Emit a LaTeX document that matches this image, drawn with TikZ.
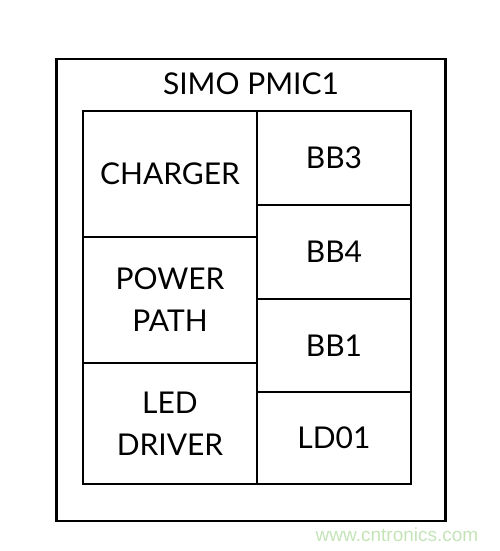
\documentclass[tikz,border=0pt]{standalone}
\usepackage{fontspec}
\setmainfont{Lato}
\newfontfamily\wmfont{Liberation Sans}
\usepackage{tikz}
\definecolor{wmgreen}{RGB}{196,228,184}

\begin{document}
\begin{tikzpicture}[x=1pt,y=-1pt]
            \tikzstyle{block}=[draw, line width=2.8pt, inner sep=0pt, align=center, font=\fontsize{30}{42}\selectfont]
            \useasboundingbox (0,0) rectangle (500,551);
            \node[draw, line width=2.8pt, minimum width=389, minimum height=462] (pmic) at (251,290) {};
            \node[font=\fontsize{30}{36}\selectfont] (title) at (251,84) {SIMO PMIC1};
            \node[block, minimum width=174, minimum height=126] (chg) at (170,174) {CHARGER};
            \node[block, minimum width=174, minimum height=126] (pwr) at (170,300) {POWER\\PATH};
            \node[block, minimum width=174, minimum height=121] (led) at (170,423.5) {LED\\DRIVER};
            \node[block, minimum width=154, minimum height=94] (bb3) at (334,158) {BB3};
            \node[block, minimum width=154, minimum height=94] (bb4) at (334,252) {BB4};
            \node[block, minimum width=154, minimum height=93] (bb1) at (334,345.5) {BB1};
            \node[block, minimum width=154, minimum height=92] (ld01) at (334,438) {LD01};
            \node[font=\wmfont\fontsize{19}{22}\selectfont, text=wmgreen] (wm) at (397,535) {www.cntronics.com};
        \end{tikzpicture}
\end{document}
